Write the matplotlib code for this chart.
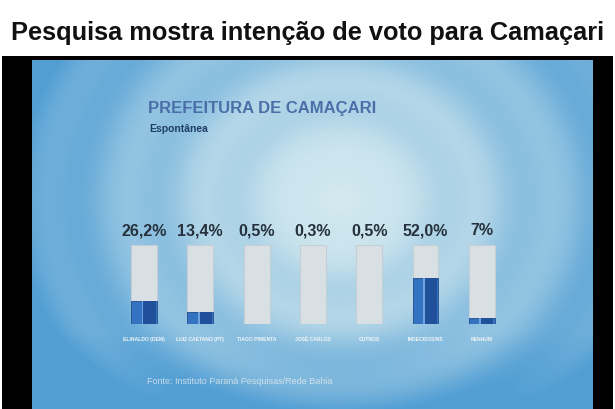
import numpy as np
import matplotlib
matplotlib.use("Agg")
import matplotlib.pyplot as plt
from matplotlib.patches import Rectangle

# ---- data ----
categories = ["ELINALDO (DEM)", "LUIZ CAETANO (PT)", "TIAGO PIMENTA", "JOSÉ CARLOS",
              "OUTROS", "INDECISOS/NS", "NENHUM"]
values = [26.2, 13.4, 0.5, 0.3, 0.5, 52.0, 7.0]
value_labels = ["26,2%", "13,4%", "0,5%", "0,3%", "0,5%", "52,0%", "7%"]
title = "Pesquisa mostra intenção de voto para Camaçari"
panel_title = "PREFEITURA DE CAMAÇARI"
panel_sub = "Espontânea"
source = "Fonte: Instituto Paraná Pesquisas/Rede Bahia"

W, H = 615, 410
fig = plt.figure(figsize=(W / 100, H / 100), dpi=100)
fig.patch.set_facecolor("white")

def fx(px):
    return px / W

def fy(py):
    return 1 - py / H

# black TV frame
frame = Rectangle((fx(2), 0), fx(611), fy(57), transform=fig.transFigure,
                  facecolor="black", edgecolor="none", zorder=-5)
fig.patches.append(frame)

# blue screen background
bx0, bx1, by0 = 32, 593, 61
ax_bg = fig.add_axes([fx(bx0), 0, fx(bx1 - bx0), fy(by0)])
ax_bg.set_zorder(1)
gw, gh = bx1 - bx0, H - by0
yy, xx = np.mgrid[0:gh, 0:gw].astype(float)
cx, cy = 340 - bx0, 200 - by0
r = np.sqrt(((xx - cx) / 1.15) ** 2 + (yy - cy) ** 2)
w = np.clip(r / 290.0, 0, 1) ** 1.2
w = w + 0.08 * np.sin(r / 11.0) * np.clip(r / 120, 0, 1)
w = w + 0.25 * np.clip((yy - 270) / 80, 0, 1)
w = np.clip(w, 0, 1)
light = np.array([0.84, 0.92, 0.94])
blue = np.array([0.32, 0.62, 0.83])
img = light[None, None, :] * (1 - w[..., None]) + blue[None, None, :] * w[..., None]
ax_bg.imshow(img, aspect="auto", interpolation="bilinear")
ax_bg.set_axis_off()

# title
fig.text(0.5, fy(33), title, ha="center", va="center", fontsize=18.3,
         fontweight="bold", family=["Liberation Sans", "DejaVu Sans"], color="#111111")

# panel texts
fig.text(fx(148), fy(108), panel_title, ha="left", va="center", fontsize=12,
         fontweight="bold", family=["Liberation Sans", "DejaVu Sans"],
         color="#4a6fa8", zorder=5)
fig.text(fx(149), fy(129), panel_sub, ha="left", va="center", fontsize=7.5,
         fontweight="bold", family=["Liberation Sans", "DejaVu Sans"], color="#1f3d66", zorder=5)
fig.text(fx(147), fy(382), source, ha="left", va="center", fontsize=6.5,
         family=["Liberation Sans", "DejaVu Sans"], color="#dfe8ee", alpha=0.85, zorder=5)

# bars axes
spacing = 56.3
first_c = 144
left = first_c - spacing / 2
ax = fig.add_axes([fx(left), fy(325), fx(7 * spacing), (325 - 246) / H])
ax.set_zorder(3)
ax.set_xlim(-0.5, 6.5)
ymax = 90
ax.set_ylim(0, ymax)
ax.set_axis_off()
ax.patch.set_alpha(0)

x = np.arange(len(values))
bw = 0.46
ax.bar(x, [ymax] * len(x), width=bw, color="#d9e0e4", edgecolor="#c4ced4", linewidth=0.8, zorder=1)
ax.bar(x, values, width=bw, color="#3473c2", edgecolor="#1d4a8c", linewidth=0.6, zorder=2)
ax.bar(x + bw * 0.2, values, width=bw * 0.5, color="#1f5099", linewidth=0, zorder=3)
ax.bar(x - bw * 0.06, values, width=bw * 0.07, color="#6fa3e0", linewidth=0, zorder=4)

for xi, lab in zip(x, value_labels):
    ax.text(xi, ymax * 1.1, lab, ha="center", va="bottom", fontsize=11.5, fontweight="bold",
            family=["Liberation Sans", "DejaVu Sans"],
            color="#26313d", clip_on=False)
for xi, lab in zip(x, categories):
    ax.text(xi, -ymax * 0.15, lab, ha="center", va="top", fontsize=3.6, fontweight="bold",
            family=["Liberation Sans", "DejaVu Sans"], color="#f2f6f8", clip_on=False)

fig.savefig("out.png", dpi=100)
